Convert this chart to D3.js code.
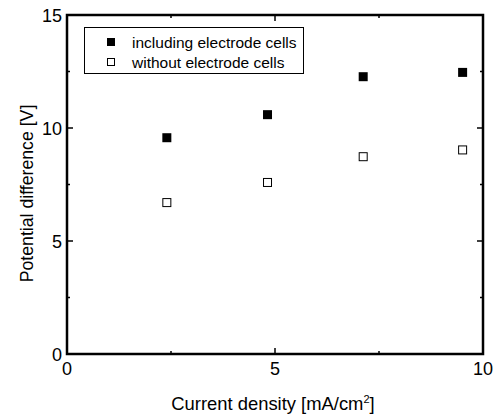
<!DOCTYPE html>
<meta charset="utf-8">
<title>Potential difference vs current density</title>
<style>
body { margin: 0; background: #fff; }
text { font-family: Arial, "Liberation Sans", sans-serif; fill: #000; }
</style>
<body>
<div id="chart"></div>
<script src="https://d3js.org/d3.v7.min.js"></script>
<script>
// Data
const currentDensity = [2.40, 4.82, 7.12, 9.51];
const withElectrodes = [9.57, 10.59, 12.27, 12.46];
const withoutElectrodes = [6.70, 7.59, 8.73, 9.03];
const seriesNames = ["including electrode cells", "without electrode cells"];
const xTicks = [0, 5, 10];
const yTicks = [0, 5, 10, 15];

const width = 493, height = 416;
const margin = {top: 15, right: 10, bottom: 62, left: 67};

const svg = d3.select("#chart").append("svg")
    .attr("width", width)
    .attr("height", height);

const x = d3.scaleLinear().domain([0, 10]).range([margin.left, width - margin.right]);
const y = d3.scaleLinear().domain([0, 15]).range([height - margin.bottom, margin.top]);

const x0 = x(0), x1 = x(10), y0 = y(0), y1 = y(15);

// frame
svg.append("rect")
    .attr("x", x0).attr("y", y1)
    .attr("width", x1 - x0).attr("height", y0 - y1)
    .attr("fill", "none").attr("stroke", "#000").attr("stroke-width", 2.5);

// ticks, pointing inward on all four sides
const xMinor = [2.5, 7.5], yMinor = [2.5, 7.5, 12.5];
const tickG = svg.append("g").attr("stroke", "#000").attr("stroke-width", 1.5);
function xTick(v, len) {
  tickG.append("line").attr("x1", x(v)).attr("x2", x(v)).attr("y1", y0).attr("y2", y0 - len);
  tickG.append("line").attr("x1", x(v)).attr("x2", x(v)).attr("y1", y1).attr("y2", y1 + len);
}
function yTick(v, len) {
  tickG.append("line").attr("y1", y(v)).attr("y2", y(v)).attr("x1", x0).attr("x2", x0 + len);
  tickG.append("line").attr("y1", y(v)).attr("y2", y(v)).attr("x1", x1).attr("x2", x1 - len);
}
xTicks.forEach(v => xTick(v, 6));
xMinor.forEach(v => xTick(v, 3));
yTicks.forEach(v => yTick(v, 6));
yMinor.forEach(v => yTick(v, 3));

// tick labels
svg.append("g").selectAll("text").data(xTicks).join("text")
    .attr("x", d => x(d)).attr("y", y0 + 21)
    .attr("text-anchor", "middle")
    .style("font-size", "18px")
    .text(d => d);
svg.append("g").selectAll("text").data(yTicks).join("text")
    .attr("x", x0 - 5).attr("y", d => y(d) + 6.5)
    .attr("text-anchor", "end")
    .style("font-size", "18px")
    .text(d => d);

// axis titles
const xt = svg.append("text")
    .attr("x", (x0 + x1) / 2 - 2).attr("y", 410)
    .attr("text-anchor", "middle")
    .style("font-size", "18.4px");
xt.append("tspan").text("Current density [mA/cm");
xt.append("tspan").attr("dy", -7).style("font-size", "11px").text("2");
xt.append("tspan").attr("dy", 7).text("]");

svg.append("text")
    .attr("transform", `translate(33,${(y0 + y1) / 2 + 9}) rotate(-90)`)
    .attr("text-anchor", "middle")
    .style("font-size", "17.7px")
    .text("Potential difference [V]");

// markers
const size = 9;
svg.append("g").selectAll("rect").data(currentDensity).join("rect")
    .attr("x", (d) => x(d) - size / 2)
    .attr("y", (d, i) => y(withElectrodes[i]) - size / 2)
    .attr("width", size).attr("height", size)
    .attr("fill", "#000");
svg.append("g").selectAll("rect").data(currentDensity).join("rect")
    .attr("x", (d) => x(d) - (size - 1) / 2)
    .attr("y", (d, i) => y(withoutElectrodes[i]) - (size - 1) / 2)
    .attr("width", size - 1).attr("height", size - 1)
    .attr("fill", "#fff").attr("stroke", "#000").attr("stroke-width", 1);

// legend
const lg = svg.append("g");
lg.append("rect")
    .attr("x", 84.5).attr("y", 27.5).attr("width", 219).attr("height", 46)
    .attr("fill", "#fff").attr("stroke", "#000").attr("stroke-width", 1);
seriesNames.forEach((name, i) => {
  const cy = 42 + i * 20;
  lg.append("rect")
      .attr("x", 111 - 3.5).attr("y", cy - 3.5)
      .attr("width", 7).attr("height", 7)
      .attr("fill", i === 0 ? "#000" : "#fff")
      .attr("stroke", "#000").attr("stroke-width", 1);
  lg.append("text")
      .attr("x", 132).attr("y", cy + 5.5)
      .style("font-size", "15.5px")
      .text(name);
});
</script>
</body>
